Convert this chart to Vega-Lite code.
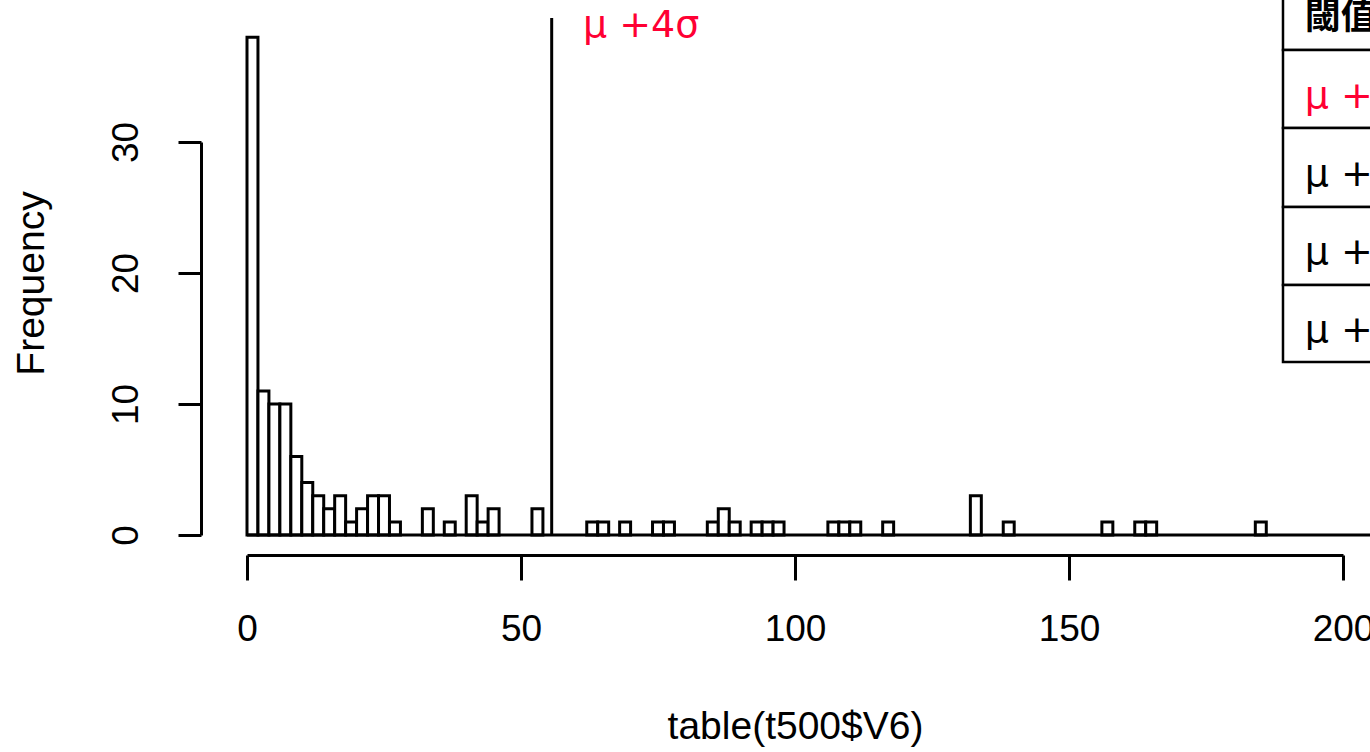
{
  "$schema": "https://vega.github.io/schema/vega-lite/v6.json",
  "width": 1096,
  "height": 393,
  "autosize": {"type": "none"},
  "padding": {"left": 247, "top": 142, "right": 27, "bottom": 217},
  "background": "white",
  "config": {
    "view": {"stroke": null},
    "font": "Liberation Sans",
    "axis": {"grid": false}
  },
  "datasets": {
    "bins": [
      {"start": 0, "end": 2, "count": 38},
      {"start": 2, "end": 4, "count": 11},
      {"start": 4, "end": 6, "count": 10},
      {"start": 6, "end": 8, "count": 10},
      {"start": 8, "end": 10, "count": 6},
      {"start": 10, "end": 12, "count": 4},
      {"start": 12, "end": 14, "count": 3},
      {"start": 14, "end": 16, "count": 2},
      {"start": 16, "end": 18, "count": 3},
      {"start": 18, "end": 20, "count": 1},
      {"start": 20, "end": 22, "count": 2},
      {"start": 22, "end": 24, "count": 3},
      {"start": 24, "end": 26, "count": 3},
      {"start": 26, "end": 28, "count": 1},
      {"start": 32, "end": 34, "count": 2},
      {"start": 36, "end": 38, "count": 1},
      {"start": 40, "end": 42, "count": 3},
      {"start": 42, "end": 44, "count": 1},
      {"start": 44, "end": 46, "count": 2},
      {"start": 52, "end": 54, "count": 2},
      {"start": 62, "end": 64, "count": 1},
      {"start": 64, "end": 66, "count": 1},
      {"start": 68, "end": 70, "count": 1},
      {"start": 74, "end": 76, "count": 1},
      {"start": 76, "end": 78, "count": 1},
      {"start": 84, "end": 86, "count": 1},
      {"start": 86, "end": 88, "count": 2},
      {"start": 88, "end": 90, "count": 1},
      {"start": 92, "end": 94, "count": 1},
      {"start": 94, "end": 96, "count": 1},
      {"start": 96, "end": 98, "count": 1},
      {"start": 106, "end": 108, "count": 1},
      {"start": 108, "end": 110, "count": 1},
      {"start": 110, "end": 112, "count": 1},
      {"start": 116, "end": 118, "count": 1},
      {"start": 132, "end": 134, "count": 3},
      {"start": 138, "end": 140, "count": 1},
      {"start": 156, "end": 158, "count": 1},
      {"start": 162, "end": 164, "count": 1},
      {"start": 164, "end": 166, "count": 1},
      {"start": 184, "end": 186, "count": 1}
    ],
    "table": [
      {"x1": 189.05, "x2": 230, "top": 45, "bottom": 37.02, "label": "閾值", "ty": 39.47, "color": "black", "header": true},
      {"x1": 189.05, "x2": 230, "top": 37.02, "bottom": 31.07, "label": "μ +4σ", "ty": 32.6, "color": "#FF0033", "header": false},
      {"x1": 189.05, "x2": 230, "top": 31.07, "bottom": 25.04, "label": "μ +3σ", "ty": 26.64, "color": "black", "header": false},
      {"x1": 189.05, "x2": 230, "top": 25.04, "bottom": 19.08, "label": "μ +2σ", "ty": 20.69, "color": "black", "header": false},
      {"x1": 189.05, "x2": 230, "top": 19.08, "bottom": 13.2, "label": "μ +σ", "ty": 14.73, "color": "black", "header": false}
    ],
    "one": [{"k": 1}]
  },
  "layer": [
    {
      "data": {"name": "bins"},
      "mark": {"type": "rect", "fill": "white", "stroke": "black", "strokeWidth": 3},
      "encoding": {
        "x": {
          "field": "start", "type": "quantitative",
          "scale": {"domain": [0, 200], "nice": false, "zero": false},
          "axis": {
            "values": [0, 50, 100, 150, 200],
            "offset": 20,
            "domainColor": "black", "domainWidth": 3,
            "tickColor": "black", "tickWidth": 3, "tickSize": 25,
            "labelFontSize": 37, "labelColor": "black", "labelPadding": 31,
            "labelFont": "Liberation Sans", "labelFlush": false, "labelOverlap": false,
            "title": "table(t500$V6)", "titleFont": "Liberation Sans", "titleFontSize": 39,
            "titleFontWeight": "normal", "titleColor": "black",
            "titleBaseline": "alphabetic", "titleY": 183
          }
        },
        "x2": {"field": "end"},
        "y": {
          "field": "count", "type": "quantitative",
          "scale": {"domain": [0, 30], "nice": false},
          "axis": {
            "values": [0, 10, 20, 30],
            "offset": 46,
            "domainColor": "black", "domainWidth": 3,
            "tickColor": "black", "tickWidth": 3, "tickSize": 23,
            "labelFontSize": 37, "labelColor": "black", "labelAngle": -90,
            "labelAlign": "center", "labelBaseline": "alphabetic", "labelPadding": 41,
            "labelFont": "Liberation Sans", "labelFlush": false, "labelOverlap": false,
            "title": "Frequency", "titleFont": "Liberation Sans", "titleFontSize": 39,
            "titleFontWeight": "normal", "titleColor": "black",
            "titleAngle": -90, "titleBaseline": "alphabetic", "titleAlign": "center",
            "titleX": -158, "titleY": 141
          }
        },
        "y2": {"datum": 0}
      }
    },
    {
      "data": {"name": "one"},
      "mark": {"type": "rule", "color": "black", "strokeWidth": 3},
      "encoding": {
        "x": {"datum": 0, "type": "quantitative"},
        "x2": {"datum": 215},
        "y": {"datum": 0, "type": "quantitative"}
      }
    },
    {
      "data": {"name": "one"},
      "mark": {"type": "rule", "color": "black", "strokeWidth": 3},
      "encoding": {
        "x": {"datum": 55.6, "type": "quantitative"},
        "y": {"datum": 0, "type": "quantitative"},
        "y2": {"datum": 39.47}
      }
    },
    {
      "data": {"name": "one"},
      "mark": {"type": "text", "color": "#FF0033", "fontSize": 38, "font": "DejaVu Sans", "align": "left", "baseline": "alphabetic"},
      "encoding": {
        "x": {"datum": 61.3, "type": "quantitative"},
        "y": {"datum": 38.05, "type": "quantitative"},
        "text": {"value": "μ +4σ"}
      }
    },
    {
      "data": {"name": "table"},
      "mark": {"type": "rect", "fill": "white", "stroke": "black", "strokeWidth": 2.5},
      "encoding": {
        "x": {"field": "x1", "type": "quantitative"},
        "x2": {"field": "x2"},
        "y": {"field": "top", "type": "quantitative"},
        "y2": {"field": "bottom"}
      }
    },
    {
      "data": {"name": "table"},
      "transform": [{"filter": "datum.header"}],
      "mark": {"type": "text", "fontSize": 36, "font": "Noto Sans CJK TC", "fontWeight": "bold", "align": "left", "baseline": "middle", "color": "black"},
      "encoding": {
        "x": {"datum": 193, "type": "quantitative"},
        "y": {"field": "ty", "type": "quantitative"},
        "text": {"field": "label"}
      }
    },
    {
      "data": {"name": "table"},
      "transform": [{"filter": "!datum.header"}],
      "mark": {"type": "text", "fontSize": 38, "font": "DejaVu Sans", "align": "left", "baseline": "alphabetic"},
      "encoding": {
        "x": {"datum": 193, "type": "quantitative"},
        "y": {"field": "ty", "type": "quantitative"},
        "text": {"field": "label"},
        "color": {"field": "color", "type": "nominal", "scale": null}
      }
    }
  ]
}
